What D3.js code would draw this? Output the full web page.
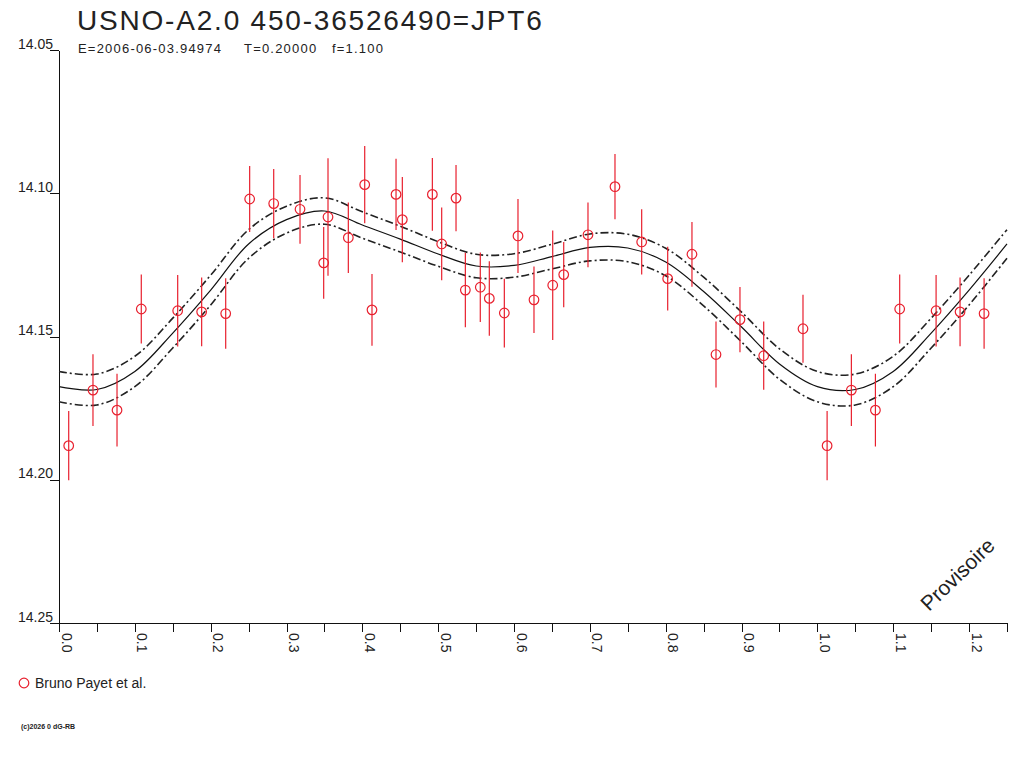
<!DOCTYPE html>
<html>
<head>
<meta charset="utf-8">
<title>USNO-A2.0 450-36526490=JPT6</title>
<style>
  body { margin: 0; background: #fff; }
  svg { display: block; font-family: "Liberation Sans", Arial, sans-serif; }
  .axis path, .axis line { stroke: #111; shape-rendering: crispEdges; }
  .axis text { font-size: 14px; fill: #222; font-family: "Liberation Sans", Arial, sans-serif; }
</style>
</head>
<body>
<div id="chart"></div>
<script src="https://cdn.jsdelivr.net/npm/d3@7"></script>
<script>
// observations (phase, magnitude, error)
var phase = [0.0128, 0.0448, 0.0765, 0.1085, 0.1565, 0.1881, 0.2198, 0.2514, 0.2831, 0.3178,
             0.3490, 0.3547, 0.3815, 0.4031, 0.4127, 0.4444, 0.4527, 0.4923, 0.5046, 0.5235,
             0.5358, 0.5555, 0.5674, 0.5872, 0.6052, 0.6263, 0.6510, 0.6655, 0.6975, 0.7331,
             0.7683, 0.8026, 0.8346, 0.8663, 0.8979, 0.9292, 0.9810];
var mag = [14.1881, 14.1687, 14.1757, 14.1404, 14.1410, 14.1414, 14.1420, 14.1020, 14.1036, 14.1056,
           14.1243, 14.1083, 14.1155, 14.0970, 14.1407, 14.1004, 14.1092, 14.1004, 14.1177, 14.1017,
           14.1338, 14.1328, 14.1367, 14.1418, 14.1149, 14.1372, 14.1321, 14.1284, 14.1145, 14.0977,
           14.1170, 14.1298, 14.1213, 14.1563, 14.1441, 14.1567, 14.1473];
var err = [0.0121, 0.0125, 0.0127, 0.0120, 0.0125, 0.0120, 0.0123, 0.0115, 0.0121, 0.0120,
           0.0125, 0.0205, 0.0123, 0.0135, 0.0125, 0.0124, 0.0149, 0.0127, 0.0127, 0.0116,
           0.0130, 0.0121, 0.0130, 0.0120, 0.0129, 0.0116, 0.0191, 0.0114, 0.0113, 0.0114,
           0.0114, 0.0111, 0.0113, 0.0115, 0.0114, 0.0119, 0.0119];

// fitted light curve, read every 0.05 in phase, with its envelope half-width
var curvePhase = [0.00, 0.05, 0.10, 0.15, 0.20, 0.25, 0.30, 0.35, 0.40, 0.45, 0.50, 0.55, 0.60,
                  0.65, 0.70, 0.75, 0.80, 0.85, 0.90, 0.95, 1.00, 1.05, 1.10, 1.15, 1.20, 1.25];
var curveMag = [14.1675, 14.1685, 14.1622, 14.1488, 14.1338, 14.1177, 14.1092, 14.1062, 14.1111,
                14.1160, 14.1212, 14.1254, 14.1252, 14.1221, 14.1189, 14.1191, 14.1240, 14.1343,
                14.1467, 14.1596, 14.1675, 14.1685, 14.1622, 14.1488, 14.1338, 14.1177];
var curveSigma = [0.0053, 0.0054, 0.0053, 0.0052, 0.0052, 0.0050, 0.0047, 0.0046, 0.0046, 0.0045,
                  0.0043, 0.0041, 0.0041, 0.0043, 0.0047, 0.0048, 0.0048, 0.0050, 0.0052, 0.0053,
                  0.0053, 0.0054, 0.0053, 0.0052, 0.0052, 0.0050];

var xTicks = [0, 0.05, 0.1, 0.15, 0.2, 0.25, 0.3, 0.35, 0.4, 0.45, 0.5, 0.55, 0.6, 0.65,
              0.7, 0.75, 0.8, 0.85, 0.9, 0.95, 1.0, 1.05, 1.1, 1.15, 1.2, 1.25];
var yTicks = [14.05, 14.10, 14.15, 14.20, 14.25];

var width = 1024, height = 768;
var red = '#e8202e';

var svg = d3.select('#chart').append('svg')
    .attr('width', width)
    .attr('height', height);

var x = d3.scaleLinear().domain([0, 1.25]).range([59, 1007]);
var y = d3.scaleLinear().domain([14.05, 14.25]).range([50, 623]);

// title
svg.append('text')
    .attr('x', 77).attr('y', 30)
    .attr('font-size', 28)
    .attr('letter-spacing', 1.8)
    .attr('fill', '#222')
    .text('USNO-A2.0 450-36526490=JPT6');

var sub = svg.append('text')
    .attr('y', 53)
    .attr('font-size', 13)
    .attr('letter-spacing', 1.2)
    .attr('fill', '#222');
sub.append('tspan').attr('x', 78).text('E=2006-06-03.94974');
sub.append('tspan').attr('x', 244).text('T=0.20000');
sub.append('tspan').attr('x', 332).text('f=1.100');

// axes
var xAxis = d3.axisBottom(x)
    .tickValues(xTicks)
    .tickSize(9)
    .tickSizeOuter(0)
    .tickFormat(function(d) {
      var k = Math.round(d * 100);
      return k % 10 === 0 ? d3.format('.1f')(d) : '';
    });

var gx = svg.append('g')
    .attr('class', 'axis')
    .attr('transform', 'translate(0,623)')
    .call(xAxis);
gx.selectAll('text')
    .attr('transform', 'rotate(90)')
    .attr('x', 10)
    .attr('y', -2)
    .attr('dy', 0)
    .style('text-anchor', 'start');

var yAxis = d3.axisLeft(y)
    .tickValues(yTicks)
    .tickSize(9)
    .tickSizeOuter(0)
    .tickFormat(d3.format('.2f'));

var gy = svg.append('g')
    .attr('class', 'axis')
    .attr('transform', 'translate(59,0)')
    .call(yAxis);
gy.selectAll('text')
    .attr('x', -6)
    .attr('dy', -2);

// fitted curve and envelope
var pts = curvePhase.map(function(p, i) { return {p: p, m: curveMag[i], s: curveSigma[i]}; });

var line = function(off) {
  return d3.line()
    .x(function(d) { return x(d.p); })
    .y(function(d) { return y(d.m + off * d.s); })
    .curve(d3.curveCatmullRom);
};

svg.append('path')
    .datum(pts)
    .attr('d', line(0))
    .attr('fill', 'none')
    .attr('stroke', '#111')
    .attr('stroke-width', 1.2);

[-1, 1].forEach(function(off) {
  svg.append('path')
      .datum(pts)
      .attr('d', line(off))
      .attr('fill', 'none')
      .attr('stroke', '#222')
      .attr('stroke-width', 1.6)
      .attr('stroke-dasharray', '8,3,2,3');
});

// observations, phases < 0.25 repeated one cycle later
var obs = [];
phase.forEach(function(p, i) {
  obs.push({p: p, m: mag[i], e: err[i]});
  if (p + 1 <= 1.25) obs.push({p: p + 1, m: mag[i], e: err[i]});
});

var g = svg.append('g');
g.selectAll('line.err')
    .data(obs)
  .enter().append('line')
    .attr('class', 'err')
    .attr('x1', function(d) { return x(d.p); })
    .attr('x2', function(d) { return x(d.p); })
    .attr('y1', function(d) { return y(d.m - d.e); })
    .attr('y2', function(d) { return y(d.m + d.e); })
    .attr('stroke', red)
    .attr('stroke-width', 1.2);

g.selectAll('circle')
    .data(obs)
  .enter().append('circle')
    .attr('cx', function(d) { return x(d.p); })
    .attr('cy', function(d) { return y(d.m); })
    .attr('r', 4.8)
    .attr('fill', 'none')
    .attr('stroke', red)
    .attr('stroke-width', 1.2);

// watermark
svg.append('text')
    .attr('transform', 'translate(929,612) rotate(-44)')
    .attr('font-size', 21)
    .attr('fill', '#222')
    .text('Provisoire');

// legend
svg.append('circle')
    .attr('cx', 24).attr('cy', 683).attr('r', 4.8)
    .attr('fill', 'none').attr('stroke', red).attr('stroke-width', 1.2);
svg.append('text')
    .attr('x', 35).attr('y', 688)
    .attr('font-size', 14)
    .attr('fill', '#222')
    .text('Bruno Payet et al.');

svg.append('text')
    .attr('x', 21).attr('y', 729)
    .attr('font-size', 7)
    .attr('font-weight', 'bold')
    .attr('fill', '#222')
    .text('(c)2026 0 dG-RB');
</script>
</body>
</html>
